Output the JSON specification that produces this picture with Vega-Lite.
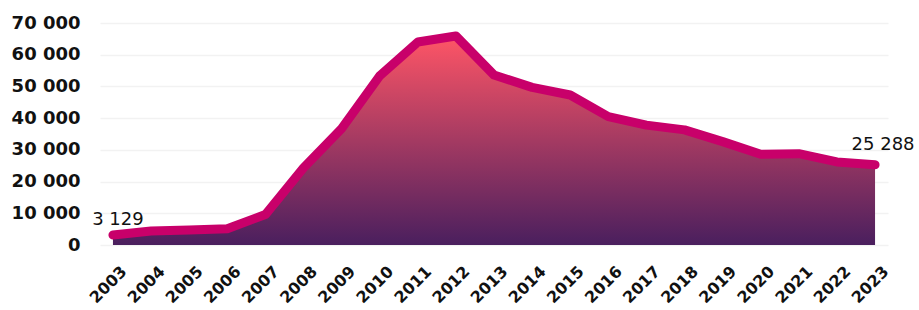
{
  "$schema": "https://vega.github.io/schema/vega-lite/v6.json",
  "width": 788,
  "height": 222,
  "autosize": {"type": "none"},
  "padding": {"left": 100, "top": 23, "right": 31, "bottom": 65},
  "background": "white",
  "config": {
    "view": {"stroke": null},
    "locale": {"number": {"decimal": ",", "thousands": " ", "grouping": [3], "currency": ["", ""]}},
    "font": "DejaVu Sans"
  },
  "data": {
    "values": [
      {"year": "2003", "value": 3129},
      {"year": "2004", "value": 4400},
      {"year": "2005", "value": 4700},
      {"year": "2006", "value": 5100},
      {"year": "2007", "value": 9600},
      {"year": "2008", "value": 24300},
      {"year": "2009", "value": 36700},
      {"year": "2010", "value": 53300},
      {"year": "2011", "value": 64000},
      {"year": "2012", "value": 65900},
      {"year": "2013", "value": 53600},
      {"year": "2014", "value": 49700},
      {"year": "2015", "value": 47300},
      {"year": "2016", "value": 40500},
      {"year": "2017", "value": 37800},
      {"year": "2018", "value": 36300},
      {"year": "2019", "value": 32600},
      {"year": "2020", "value": 28600},
      {"year": "2021", "value": 28800},
      {"year": "2022", "value": 26200},
      {"year": "2023", "value": 25288}
    ]
  },
  "encoding": {
    "x": {
      "field": "year",
      "type": "ordinal",
      "scale": {"type": "point", "padding": 0.34},
      "axis": {
        "title": null,
        "labelAngle": -45,
        "labelFontSize": 16,
        "labelFontWeight": "bold",
        "labelColor": "#111111",
        "labelPadding": 18,
        "labelOffset": 5,
        "ticks": false,
        "domain": false,
        "grid": false
      }
    },
    "y": {
      "field": "value",
      "type": "quantitative",
      "scale": {"domain": [0, 70000], "nice": false},
      "axis": {
        "title": null,
        "values": [0, 10000, 20000, 30000, 40000, 50000, 60000, 70000],
        "format": ",d",
        "labelFontSize": 18,
        "labelFontWeight": "bold",
        "labelColor": "#111111",
        "labelPadding": 20,
        "ticks": false,
        "domain": false,
        "grid": true,
        "gridColor": "#f2f2f2",
        "gridWidth": 1.5
      }
    }
  },
  "layer": [
    {
      "mark": {
        "type": "area",
        "color": {
          "gradient": "linear",
          "x1": 0, "y1": 0, "x2": 0, "y2": 1,
          "stops": [
            {"offset": 0, "color": "#ff5566"},
            {"offset": 0.5, "color": "#a43a62"},
            {"offset": 1, "color": "#4a1f5e"}
          ]
        }
      }
    },
    {
      "mark": {"type": "line", "color": "#c8006a", "strokeWidth": 9, "strokeCap": "round", "strokeJoin": "round"}
    },
    {
      "transform": [{"filter": "datum.year == '2003'"}],
      "mark": {"type": "text", "fontSize": 18, "fontWeight": "normal", "color": "#111111", "dx": 5, "dy": -10, "baseline": "alphabetic"},
      "encoding": {"text": {"field": "value", "type": "quantitative", "format": ",d"}}
    },
    {
      "transform": [{"filter": "datum.year == '2023'"}],
      "mark": {"type": "text", "fontSize": 18, "fontWeight": "normal", "color": "#111111", "dx": 8, "dy": -15, "baseline": "alphabetic"},
      "encoding": {"text": {"field": "value", "type": "quantitative", "format": ",d"}}
    }
  ]
}
